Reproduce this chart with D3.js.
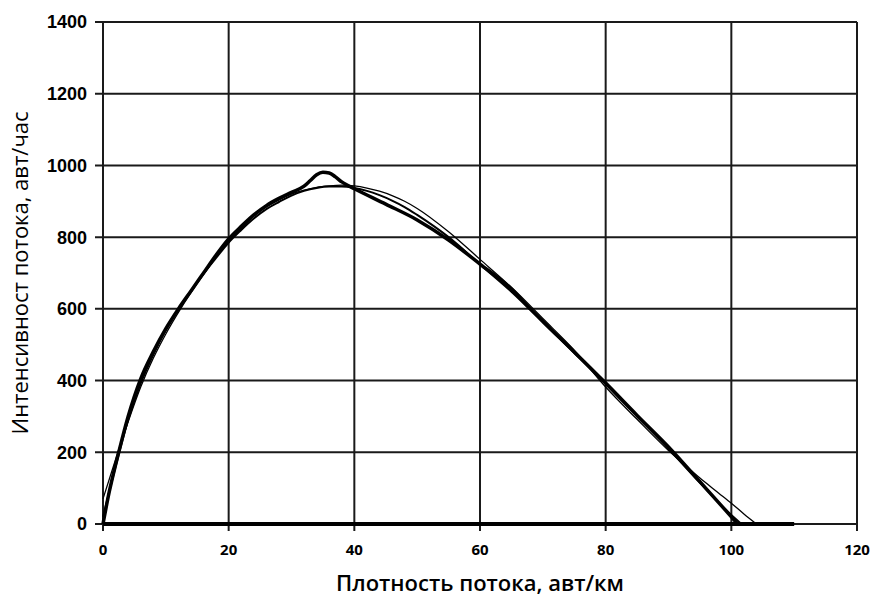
<!DOCTYPE html>
<html>
<head>
<meta charset="utf-8">
<script src="https://cdn.jsdelivr.net/npm/d3@7"></script>
<style>
  body { margin: 0; background: #fff; }
  svg { display: block; }
</style>
</head>
<body>
<div id="chart"></div>
<script>
// ---- data ----
const xTicks = [0, 20, 40, 60, 80, 100, 120];
const yTicks = [0, 200, 400, 600, 800, 1000, 1200, 1400];

// thick curve with the bump near 35
const densA = [0, 1, 2, 2.5, 4, 6, 8, 10, 12, 14, 16, 18, 20, 22, 24, 26, 28, 30, 32, 33, 34, 35, 36, 37, 38, 39, 40,
               45, 50, 55, 60, 65, 68, 70, 75, 80, 85, 90, 95, 100, 101];
const flowA = [0, 90, 165, 200, 300, 405, 480, 545, 600, 650, 700, 750, 795, 830, 862, 888, 908, 925, 942, 958, 974, 981, 979, 968, 954, 944, 935,
               892, 848, 792, 725, 655, 600, 565, 480, 393, 303, 215, 118, 20, 0];

// medium curve
const densB = [0, 2, 4, 6, 8, 10, 12, 14, 16, 18, 20, 22, 24, 26, 28, 30, 32, 34, 36, 38, 40, 42, 44, 46, 48, 50,
               55, 60, 65, 70, 75, 80, 85, 90, 95, 100, 101.6];
const flowB = [20, 160, 290, 392, 472, 540, 598, 650, 698, 742, 785, 820, 852, 878, 898, 916, 929, 937, 941, 941, 937, 929, 917, 902, 884, 862,
               800, 724, 648, 563, 477, 390, 300, 210, 115, 25, 0];

// thin curve
const densC = [0, 2, 4, 6, 8, 10, 12, 14, 16, 18, 20, 22, 24, 26, 28, 30, 32, 34, 36, 38, 40, 42, 44, 46, 48, 50,
               55, 60, 65, 70, 75, 80, 85, 90, 95, 98, 100, 102, 104];
const flowC = [70, 180, 285, 382, 462, 530, 590, 645, 696, 744, 788, 824, 858, 884, 904, 920, 931, 939, 943, 945, 943, 937, 928, 916, 900, 880,
               815, 738, 660, 573, 485, 382, 292, 205, 128, 86, 58, 28, 0];

// thick zero segment along the axis
const densZero = [0, 110];
const flowZero = [0, 0];

// ---- layout ----
const W = 876, H = 601;
const margin = { left: 103, right: 19, top: 22, bottom: 77 };
const iw = W - margin.left - margin.right;
const ih = H - margin.top - margin.bottom;

const svg = d3.select('#chart').append('svg')
    .attr('width', W)
    .attr('height', H);

const g = svg.append('g')
    .attr('transform', `translate(${margin.left},${margin.top})`);

const x = d3.scaleLinear().domain([0, 120]).range([0, iw]);
const y = d3.scaleLinear().domain([0, 1400]).range([ih, 0]);

// grid
g.append('g')
    .selectAll('line')
    .data(yTicks)
    .join('line')
    .attr('x1', -8).attr('x2', iw)
    .attr('y1', d => y(d)).attr('y2', d => y(d))
    .attr('stroke', '#1a1a1a')
    .attr('stroke-width', 2);

g.append('g')
    .selectAll('line')
    .data(xTicks)
    .join('line')
    .attr('x1', d => x(d)).attr('x2', d => x(d))
    .attr('y1', 0).attr('y2', ih + 7)
    .attr('stroke', '#1a1a1a')
    .attr('stroke-width', 2);

// tick labels
g.append('g')
    .selectAll('text')
    .data(yTicks)
    .join('text')
    .attr('x', -16)
    .attr('y', d => y(d))
    .attr('dy', '0.36em')
    .attr('text-anchor', 'end')
    .style('font-family', '"Liberation Sans Narrow", "Liberation Sans", Arial, sans-serif')
    .style('font-weight', 'bold')
    .style('font-size', '18px')
    .text(d => d);

g.append('g')
    .selectAll('text')
    .data(xTicks)
    .join('text')
    .attr('x', d => x(d))
    .attr('y', ih + 31)
    .attr('text-anchor', 'middle')
    .style('font-family', '"Open Sans", "Liberation Sans", sans-serif')
    .style('font-weight', 'bold')
    .style('font-size', '15px')
    .text(d => d);

// curves
const line = d3.line()
    .x(d => x(d[0]))
    .y(d => y(d[1]))
    .curve(d3.curveMonotoneX);

const series = [
    { xs: densC, ys: flowC, w: 1.3 },
    { xs: densB, ys: flowB, w: 2 },
    { xs: densA, ys: flowA, w: 3.5 },
    { xs: densZero, ys: flowZero, w: 4 }
];

g.append('g')
    .selectAll('path')
    .data(series)
    .join('path')
    .attr('d', s => line(d3.zip(s.xs, s.ys)))
    .attr('fill', 'none')
    .attr('stroke', '#000')
    .attr('stroke-width', s => s.w)
    .attr('stroke-linejoin', 'round');

// axis titles
svg.append('text')
    .attr('x', margin.left + iw / 2)
    .attr('y', 591)
    .attr('text-anchor', 'middle')
    .style('font-family', '"Open Sans", "Noto Sans", sans-serif')
    .style('font-weight', '600')
    .style('font-size', '22px')
    .text('Плотность потока, авт/км');

svg.append('text')
    .attr('transform', `translate(28,${margin.top + ih / 2}) rotate(-90)`)
    .attr('text-anchor', 'middle')
    .style('font-family', '"Open Sans", "Noto Sans", sans-serif')
    .style('font-weight', '500')
    .style('font-size', '22px')
    .text('Интенсивност потока, авт/час');
</script>
</body>
</html>
